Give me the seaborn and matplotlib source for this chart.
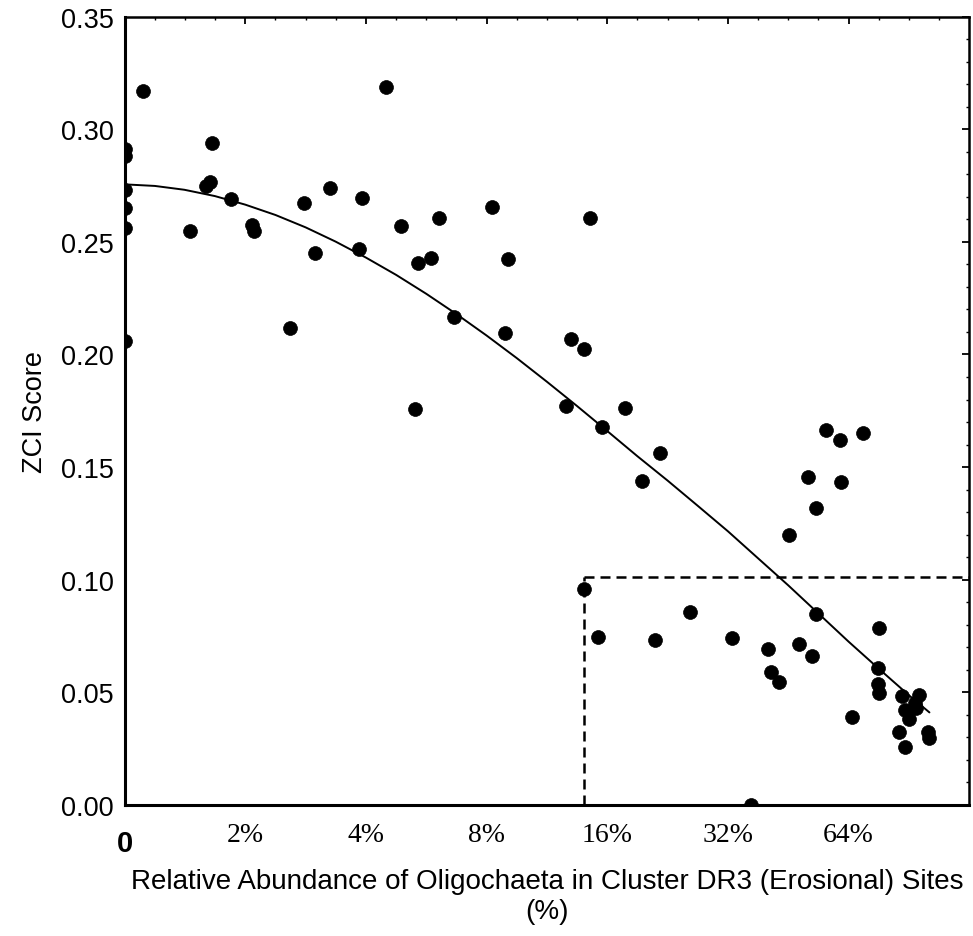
import numpy as np
import pandas as pd
import matplotlib
matplotlib.use("Agg")
import matplotlib.pyplot as plt
from matplotlib.ticker import FixedLocator, MultipleLocator, NullFormatter, FormatStrFormatter
from matplotlib.transforms import ScaledTranslation
import seaborn as sns

# ---- data ----
# relative abundance (%) ; sites with zero abundance sit at the axis origin (labelled "0")
abund_pct = [1.0, 1.0, 1.0, 1.0, 1.0, 1.0,
             1.11, 1.65, 1.63, 1.60, 1.84, 1.46, 2.08, 2.10, 2.80, 2.98, 3.25, 3.92,
             3.85, 4.49, 4.89, 5.40, 5.83, 6.07, 8.23, 9.04, 14.5, 2.59, 5.30, 6.63,
             8.88, 13.0, 14.0, 12.6, 17.7, 15.5, 21.7, 19.5, 56.2, 60.9, 69.7, 50.8,
             61.4, 53.1, 45.5, 53.1, 76.3, 32.7, 40.2, 48.2, 51.9, 41.0, 42.8, 75.6,
             75.6, 76.3, 65.1, 87.2, 96.0, 88.5, 94.4, 90.6, 93.7, 85.3, 88.5, 100.7,
             101.7, 14.0, 15.2, 21.1, 25.8, 36.5]
zci_score = [0.291, 0.288, 0.273, 0.265, 0.256, 0.206,
             0.317, 0.294, 0.2765, 0.2748, 0.2692, 0.2548, 0.2573, 0.2548, 0.2674, 0.2449, 0.274, 0.2693,
             0.2467, 0.3189, 0.257, 0.2405, 0.243, 0.2604, 0.2654, 0.2422, 0.2604, 0.2119, 0.176, 0.2166,
             0.2094, 0.207, 0.2026, 0.177, 0.1761, 0.1678, 0.1562, 0.1437, 0.1665, 0.162, 0.1653, 0.1458,
             0.1436, 0.132, 0.1199, 0.0847, 0.0787, 0.074, 0.0692, 0.0714, 0.0662, 0.0591, 0.0547, 0.0606,
             0.0537, 0.0496, 0.0389, 0.0485, 0.0488, 0.0423, 0.0432, 0.0382, 0.0455, 0.0323, 0.0256, 0.0323,
             0.0296, 0.0961, 0.0744, 0.0734, 0.0858, 0.0]

# fitted curve, sampled from the figure
fit_pct = [1.0, 1.19, 1.41, 1.68, 2.0, 2.38, 2.83, 3.36, 4.0, 4.76, 5.66, 6.73, 8.0,
           9.51, 11.31, 13.45, 16.0, 19.03, 22.63, 26.91, 32.0, 38.05, 45.25, 53.82,
           64.0, 76.11, 90.51, 101.8]
fit_zci = [0.2755, 0.2748, 0.2731, 0.2703, 0.2665, 0.2619, 0.2564, 0.2501, 0.2430,
           0.2353, 0.2269, 0.2179, 0.2084, 0.1984, 0.1879, 0.1771, 0.1660, 0.1548,
           0.1440, 0.1328, 0.1215, 0.1095, 0.0975, 0.0850, 0.0725, 0.0605, 0.0487, 0.0411]

# threshold box
abund_threshold = 14.0
zci_threshold = 0.1013

x_tick_values = [1, 2, 4, 8, 16, 32, 64]
x_tick_labels = ["0", "2%", "4%", "8%", "16%", "32%", "64%"]
x_limits = (1, 128)
y_limits = (0.0, 0.35)

pts = pd.DataFrame({"abund": abund_pct, "zci": zci_score})
fit = pd.DataFrame({"abund": fit_pct, "zci": fit_zci})

# ---- plotting ----
sns.set_theme(style="white")
plt.rcParams["font.family"] = ["Liberation Sans", "DejaVu Sans"]
plt.rcParams.update({"text.color": "black", "axes.labelcolor": "black",
                     "xtick.color": "black", "ytick.color": "black"})

fig = plt.figure(figsize=(9.73, 9.37), dpi=100)
ax = fig.add_axes([0.128, 0.1398, 0.9962 - 0.128, 0.9813 - 0.1398])
ax.set_xscale("log", base=2)

sns.lineplot(data=fit, x="abund", y="zci", ax=ax, color="black", lw=1.4, sort=False)
sns.scatterplot(data=pts, x="abund", y="zci", ax=ax, color="black", s=100,
                edgecolor="black", linewidth=0.5, zorder=3)

dash = (4, 2.4)
ax.plot([abund_threshold, abund_threshold], [y_limits[0], zci_threshold],
        color="black", lw=1.8, ls=(0, dash))
ax.plot([abund_threshold, x_limits[1]], [zci_threshold, zci_threshold],
        color="black", lw=1.8, ls=(0, dash))

ax.set_xlim(*x_limits)
ax.set_ylim(*y_limits)

ax.xaxis.set_major_locator(FixedLocator(x_tick_values))
ax.xaxis.set_minor_locator(FixedLocator([2 ** (i / 4) for i in range(1, 28) if i % 4]))
ax.xaxis.set_minor_formatter(NullFormatter())
ax.set_xticklabels(x_tick_labels, fontfamily="Liberation Serif", fontsize=20, color="black")

ax.yaxis.set_major_locator(MultipleLocator(0.05))
ax.yaxis.set_minor_locator(MultipleLocator(0.01))
ax.yaxis.set_major_formatter(FormatStrFormatter("%.2f"))
for lab in ax.get_yticklabels():
    lab.set_fontsize(19.5)
    lab.set_color("black")

ax.tick_params(which="both", direction="in", top=True, right=True, colors="black")
ax.tick_params(which="major", length=5, width=1.3)
ax.tick_params(which="minor", length=2.4, width=1.0)
ax.tick_params(axis="y", pad=8)
ax.tick_params(axis="x", pad=12)

# "0" label in bold sans, slightly lower
zero_lab = ax.get_xticklabels()[0]
zero_lab.set_fontfamily("Liberation Sans")
zero_lab.set_fontweight("bold")
zero_lab.set_fontsize(21)
zero_lab.set_transform(zero_lab.get_transform() + ScaledTranslation(0, -5 / 72, fig.dpi_scale_trans))

for side in ["left", "bottom"]:
    ax.spines[side].set_linewidth(2.2)
for side in ["top", "right"]:
    ax.spines[side].set_linewidth(1.8)
for sp in ax.spines.values():
    sp.set_color("black")

ax.set_xlabel("Relative Abundance of Oligochaeta in Cluster DR3 (Erosional) Sites\n(%)",
              fontsize=20, labelpad=8, linespacing=1.2, color="black")
ax.set_ylabel("ZCI Score", fontsize=19.5, labelpad=9, color="black")

fig.savefig("out.png", dpi=100, facecolor="white")
